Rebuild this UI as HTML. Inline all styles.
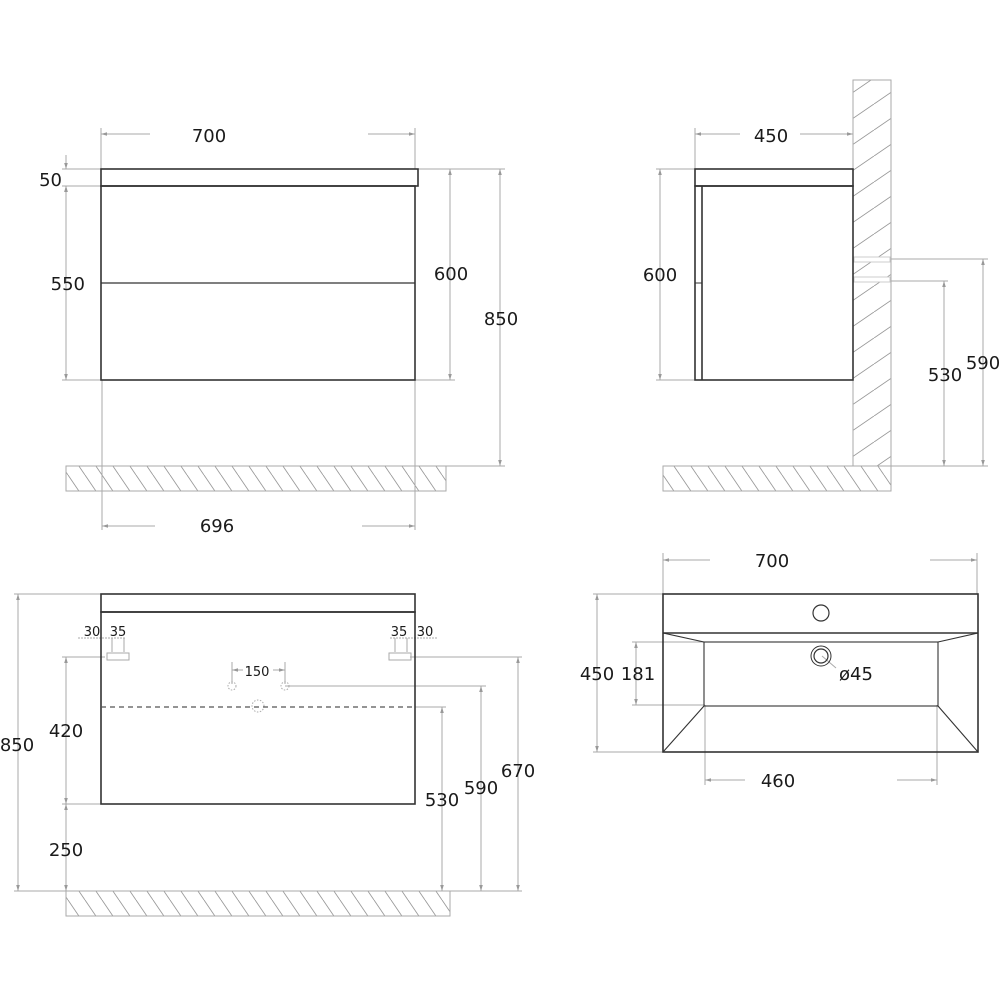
<!DOCTYPE html>
<html><head><style>html,body{margin:0;padding:0;background:#fff}svg{display:block}text{font-family:"DejaVu Sans","Liberation Sans",sans-serif;fill:#1a1a1a}</style></head>
<body>
<svg width="1000" height="1000" viewBox="0 0 1000 1000" xmlns="http://www.w3.org/2000/svg">
<defs>
<pattern id="hb" patternUnits="userSpaceOnUse" width="17" height="25"><line x1="0" y1="0" x2="17" y2="25" stroke="#999" stroke-width="0.9"/><line x1="-17" y1="0" x2="0" y2="25" stroke="#999" stroke-width="0.9"/><line x1="17" y1="0" x2="34" y2="25" stroke="#999" stroke-width="0.9"/></pattern>
<pattern id="hf" patternUnits="userSpaceOnUse" width="38" height="26"><line x1="0" y1="26" x2="38" y2="0" stroke="#999" stroke-width="0.9"/><line x1="0" y1="0" x2="-38" y2="26" stroke="#999" stroke-width="0.9"/><line x1="38" y1="26" x2="76" y2="0" stroke="#999" stroke-width="0.9"/></pattern>
<marker id="a" viewBox="0 0 10 10" refX="10" refY="5" markerWidth="6" markerHeight="6" orient="auto-start-reverse"><path d="M0,2L10,5L0,8z" fill="#999"/></marker>
</defs>
<g stroke="#aaa" stroke-width="1" fill="none">
<!-- TOP LEFT -->
<rect x="66" y="466" width="380" height="25" fill="url(#hb)"/>
<line x1="101" y1="128" x2="101" y2="169"/><line x1="415" y1="128" x2="415" y2="169"/>
<line x1="101" y1="134" x2="150" y2="134" marker-start="url(#a)"/><line x1="368" y1="134" x2="415" y2="134" marker-end="url(#a)"/>
<line x1="62" y1="169" x2="101" y2="169"/><line x1="62" y1="186" x2="101" y2="186"/><line x1="62" y1="380" x2="101" y2="380"/>
<line x1="66" y1="155" x2="66" y2="169" marker-end="url(#a)"/><line x1="66" y1="186" x2="66" y2="200" marker-start="url(#a)"/>
<line x1="66" y1="186" x2="66" y2="380" marker-start="url(#a)" marker-end="url(#a)"/>
<line x1="418" y1="169" x2="505" y2="169"/><line x1="415" y1="380" x2="455" y2="380"/><line x1="446" y1="466" x2="505" y2="466"/>
<line x1="450" y1="169" x2="450" y2="380" marker-start="url(#a)" marker-end="url(#a)"/>
<line x1="500" y1="169" x2="500" y2="466" marker-start="url(#a)" marker-end="url(#a)"/>
<line x1="102" y1="380" x2="102" y2="530"/><line x1="415" y1="380" x2="415" y2="530"/>
<line x1="102" y1="526" x2="155" y2="526" marker-start="url(#a)"/><line x1="362" y1="526" x2="415" y2="526" marker-end="url(#a)"/>
<!-- TOP RIGHT -->
<rect x="853" y="80" width="38" height="386" fill="url(#hf)"/>
<rect x="854" y="257" width="36" height="5" fill="#fff" stroke="#ccc"/>
<rect x="854" y="277" width="36" height="5" fill="#fff" stroke="#ccc"/>
<rect x="663" y="466" width="228" height="25" fill="url(#hb)"/>
<line x1="695" y1="128" x2="695" y2="169"/>
<line x1="695" y1="134" x2="740" y2="134" marker-start="url(#a)"/><line x1="800" y1="134" x2="853" y2="134" marker-end="url(#a)"/>
<line x1="656" y1="169" x2="695" y2="169"/><line x1="656" y1="380" x2="695" y2="380"/>
<line x1="660" y1="169" x2="660" y2="380" marker-start="url(#a)" marker-end="url(#a)"/>
<line x1="891" y1="259" x2="988" y2="259"/><line x1="891" y1="281" x2="948" y2="281"/><line x1="891" y1="466" x2="988" y2="466"/>
<line x1="983" y1="259" x2="983" y2="466" marker-start="url(#a)" marker-end="url(#a)"/>
<line x1="944" y1="281" x2="944" y2="466" marker-start="url(#a)" marker-end="url(#a)"/>
<!-- BOTTOM LEFT -->
<rect x="66" y="891" width="384" height="25" fill="url(#hb)"/>
<line x1="14" y1="594" x2="101" y2="594"/><line x1="14" y1="891" x2="66" y2="891"/>
<line x1="18" y1="594" x2="18" y2="891" marker-start="url(#a)" marker-end="url(#a)"/>
<line x1="62" y1="657" x2="105" y2="657"/><line x1="62" y1="804" x2="101" y2="804"/>
<line x1="66" y1="657" x2="66" y2="804" marker-start="url(#a)" marker-end="url(#a)"/>
<line x1="66" y1="804" x2="66" y2="891" marker-start="url(#a)" marker-end="url(#a)"/>
<line x1="410" y1="657" x2="522" y2="657"/><line x1="285" y1="686" x2="486" y2="686"/><line x1="415" y1="707" x2="446" y2="707"/>
<line x1="450" y1="891" x2="522" y2="891"/>
<line x1="518" y1="657" x2="518" y2="891" marker-start="url(#a)" marker-end="url(#a)"/>
<line x1="481" y1="686" x2="481" y2="891" marker-start="url(#a)" marker-end="url(#a)"/>
<line x1="442" y1="707" x2="442" y2="891" marker-start="url(#a)" marker-end="url(#a)"/>
<line x1="78" y1="638" x2="125" y2="638" stroke-dasharray="2 1"/><line x1="390" y1="638" x2="438" y2="638" stroke-dasharray="2 1"/>
<line x1="112" y1="638" x2="112" y2="652"/><line x1="124" y1="638" x2="124" y2="652"/>
<line x1="395" y1="638" x2="395" y2="652"/><line x1="407" y1="638" x2="407" y2="652"/>
<rect x="107" y="653" width="22" height="7"/><rect x="389" y="653" width="22" height="7"/>
<line x1="232" y1="662" x2="232" y2="684"/><line x1="285" y1="662" x2="285" y2="684"/>
<line x1="232" y1="670" x2="243" y2="670" marker-start="url(#a)"/><line x1="273" y1="670" x2="285" y2="670" marker-end="url(#a)"/>
<circle cx="232" cy="686" r="4" stroke-dasharray="1.5 1.5"/><circle cx="285" cy="686" r="4" stroke-dasharray="1.5 1.5"/>
<circle cx="258" cy="706" r="6" stroke-dasharray="1.5 1.5"/>
<!-- BOTTOM RIGHT -->
<line x1="663" y1="553" x2="663" y2="594"/><line x1="977" y1="553" x2="977" y2="594"/>
<line x1="663" y1="560" x2="710" y2="560" marker-start="url(#a)"/><line x1="930" y1="560" x2="977" y2="560" marker-end="url(#a)"/>
<line x1="593" y1="594" x2="663" y2="594"/><line x1="593" y1="752" x2="663" y2="752"/>
<line x1="597" y1="594" x2="597" y2="752" marker-start="url(#a)" marker-end="url(#a)"/>
<line x1="632" y1="642" x2="705" y2="642"/><line x1="632" y1="705" x2="705" y2="705"/>
<line x1="636" y1="642" x2="636" y2="705" marker-start="url(#a)" marker-end="url(#a)"/>
<line x1="705" y1="705" x2="705" y2="785"/><line x1="937" y1="705" x2="937" y2="785"/>
<line x1="705" y1="780" x2="745" y2="780" marker-start="url(#a)"/><line x1="897" y1="780" x2="937" y2="780" marker-end="url(#a)"/>
<line x1="822" y1="656" x2="836" y2="668"/>
</g>
<g stroke="#333" stroke-width="1.6" fill="none">
<rect x="101" y="169" width="317" height="17"/><rect x="101" y="186" width="314" height="194"/><line x1="101" y1="283" x2="415" y2="283" stroke-width="1.2"/>
<rect x="695" y="169" width="158" height="17"/><rect x="695" y="186" width="158" height="194"/><line x1="702" y1="186" x2="702" y2="380"/><line x1="695" y1="283" x2="702" y2="283" stroke-width="1"/>
<rect x="101" y="594" width="314" height="18"/><rect x="101" y="612" width="314" height="192"/>
<line x1="101" y1="707" x2="415" y2="707" stroke="#555" stroke-width="1.2" stroke-dasharray="5 4"/>
<rect x="663" y="594" width="315" height="158"/><line x1="663" y1="633" x2="978" y2="633"/>
<rect x="704" y="642" width="234" height="64" stroke-width="1.1"/>
<g stroke-width="1.1"><line x1="663" y1="633" x2="704" y2="642"/><line x1="978" y1="633" x2="938" y2="642"/><line x1="663" y1="752" x2="704" y2="706"/><line x1="978" y1="752" x2="938" y2="706"/></g>
<circle cx="821" cy="613" r="8" stroke-width="1.2"/>
<circle cx="821" cy="656" r="10" stroke-width="1"/><circle cx="821" cy="656" r="7" stroke-width="1.2"/>
</g>
<g font-size="18">
<text x="209" y="142" text-anchor="middle">700</text>
<text x="62" y="186" text-anchor="end">50</text>
<text x="85" y="290" text-anchor="end">550</text>
<text x="451" y="280" text-anchor="middle">600</text>
<text x="501" y="325" text-anchor="middle">850</text>
<text x="217" y="532" text-anchor="middle">696</text>
<text x="771" y="142" text-anchor="middle">450</text>
<text x="660" y="281" text-anchor="middle">600</text>
<text x="945" y="381" text-anchor="middle">530</text>
<text x="983" y="369" text-anchor="middle">590</text>
<text x="17" y="751" text-anchor="middle">850</text>
<text x="66" y="737" text-anchor="middle">420</text>
<text x="66" y="856" text-anchor="middle">250</text>
<text x="442" y="806" text-anchor="middle">530</text>
<text x="481" y="794" text-anchor="middle">590</text>
<text x="518" y="777" text-anchor="middle">670</text>
<text x="772" y="567" text-anchor="middle">700</text>
<text x="597" y="680" text-anchor="middle">450</text>
<text x="638" y="680" text-anchor="middle">181</text>
<text x="856" y="680" text-anchor="middle">ø45</text>
<text x="778" y="787" text-anchor="middle">460</text>
</g>
<g font-size="13">
<text x="92" y="636" text-anchor="middle">30</text><text x="118" y="636" text-anchor="middle">35</text>
<text x="399" y="636" text-anchor="middle">35</text><text x="425" y="636" text-anchor="middle">30</text>
<text x="257" y="676" text-anchor="middle">150</text>
</g>
</svg>
</body></html>
